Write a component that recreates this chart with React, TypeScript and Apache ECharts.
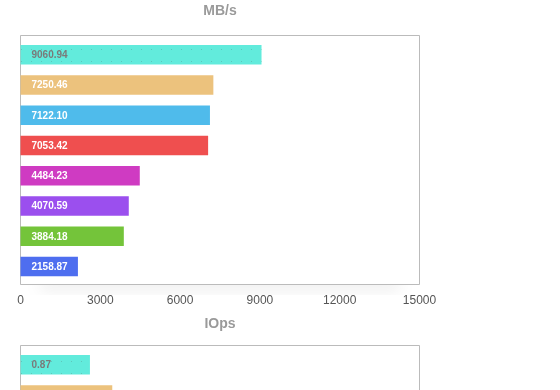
import React, { useEffect, useRef } from "react";
import * as echarts from "echarts";

const categories = ["A", "B", "C", "D", "E", "F", "G", "H"];
const mbpsValues = [9060.94, 7250.46, 7122.1, 7053.42, 4484.23, 4070.59, 3884.18, 2158.87];
const iopsValues = [0.87, 1.15, 1.1, 1.05, 0.7, 0.65, 0.6, 0.35];
const barColors = ["#62EBDC", "#ECC27D", "#4FBBEB", "#EF4F4F", "#CF3BC2", "#9B4FEE", "#74C43A", "#4E6EEF"];
const mbpsTicks = { min: 0, max: 15000, interval: 3000 };
const iopsTicks = { min: 0, max: 5, interval: 1 };
const titles = ["MB/s", "IOps"];

const FONT = "'Liberation Sans', Arial, Helvetica, sans-serif";

function makeData(values: number[]) {
  return values.map((v, i) => ({
    value: v,
    itemStyle: {
      color: barColors[i],
      decal:
        i === 0
          ? {
              symbol: "circle",
              symbolSize: 0.35,
              dashArrayX: [3, 7],
              dashArrayY: [3, 9],
              color: "rgba(90,160,150,0.55)",
              rotation: 0,
            }
          : undefined,
    },
    label: { color: i === 0 ? "#7a7a7a" : "#ffffff" },
  }));
}

export default function App() {
  const ref = useRef<HTMLDivElement>(null);
  useEffect(() => {
    if (!ref.current) return;
    const chart = echarts.init(ref.current, undefined, { renderer: "svg" });
    const boxTop = [35.5, 345.5];
    const boxH = 249;
    const inset = 4;
    const left = 20.5;
    const width = 399;
    const grids: any[] = [];
    boxTop.forEach((t) => {
      grids.push({
        left,
        top: t,
        width,
        height: boxH,
        show: true,
        backgroundColor: "#fff",
        borderColor: "#bbbbbb",
        borderWidth: 1,
        z: 1,
      });
      grids.push({ left, top: t + inset, width, height: boxH - inset * 2 + 1, z: 2 });
    });
    const tickSets = [mbpsTicks, iopsTicks];
    const xAxis: any[] = [];
    const yAxis: any[] = [];
    tickSets.forEach((ts, k) => {
      xAxis.push({
        type: "value",
        gridIndex: k * 2,
        min: ts.min,
        max: ts.max,
        interval: ts.interval,
        axisLine: { show: false },
        axisTick: { show: false },
        axisLabel: {
          color: "#555",
          fontSize: 12,
          fontFamily: FONT,
          margin: 9,
          formatter: (v: number) => String(v),
        },
        splitLine: { show: true, lineStyle: { color: "#eeeeee", width: 1 } },
      });
      xAxis.push({
        type: "value",
        gridIndex: k * 2 + 1,
        min: ts.min,
        max: ts.max,
        interval: ts.interval,
        show: false,
        splitLine: { show: false },
      });
      yAxis.push({ type: "value", gridIndex: k * 2, show: false, splitLine: { show: false } });
      yAxis.push({
        type: "category",
        gridIndex: k * 2 + 1,
        data: categories,
        inverse: true,
        show: false,
      });
    });
    const seriesVals = [mbpsValues, iopsValues];
    const series = seriesVals.map((vals, k) => ({
      type: "bar",
      xAxisIndex: k * 2 + 1,
      yAxisIndex: k * 2 + 1,
      data: makeData(vals),
      barWidth: 19.5,
      z: 3,
      label: {
        show: true,
        position: "insideLeft",
        distance: 11,
        fontSize: 10,
        fontWeight: "bold",
        fontFamily: FONT,
        formatter: (p: any) => p.value.toFixed(2),
      },
    }));
    chart.setOption({
      animation: false,
      aria: { enabled: false },
      title: titles.map((t, k) => ({
        text: t,
        left: 220,
        textAlign: "center",
        top: k === 0 ? 3 : 316,
        padding: 0,
        textStyle: { color: "#9a9a9a", fontSize: 14, fontWeight: "bold", fontFamily: FONT },
      })),
      grid: grids,
      xAxis,
      yAxis,
      graphic: boxTop.map((t) => ({
        type: "rect",
        z: -5,
        shape: { x: 40, y: t + boxH - 14, width: 360, height: 12 },
        style: {
          fill: "#fff",
          shadowBlur: 16,
          shadowOffsetY: 7,
          shadowColor: "rgba(0,0,0,0.08)",
        },
      })),
      series,
    });
    return () => chart.dispose();
  }, []);
  return (
    <div
      ref={ref}
      style={{ position: "fixed", left: 0, top: 0, width: 560, height: 700 }}
    />
  );
}
